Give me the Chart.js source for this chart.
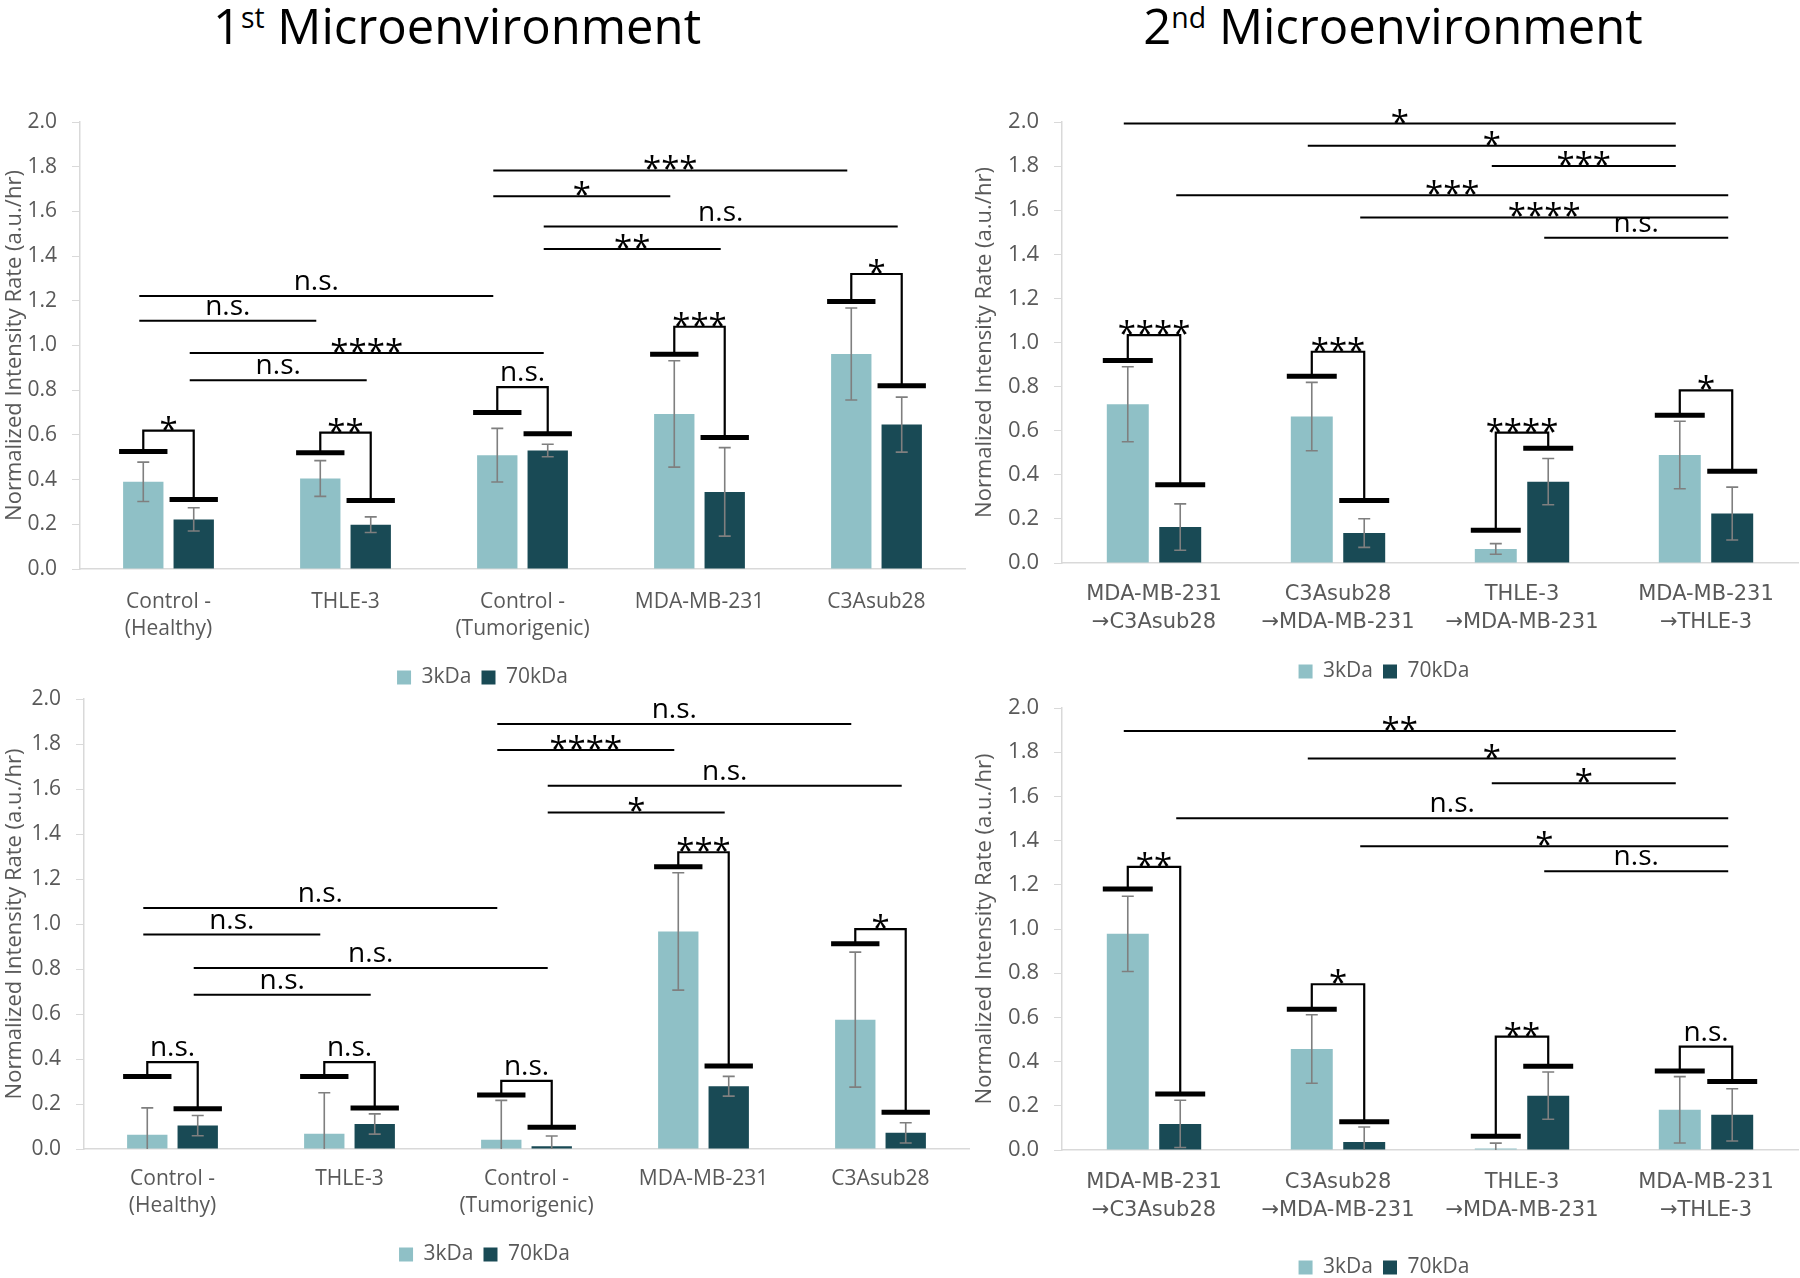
<!DOCTYPE html>
<html>
<head>
<meta charset="utf-8">
<script src="https://cdn.jsdelivr.net/npm/chart.js@4.4.1/dist/chart.umd.min.js"></script>
<style>
  html, body { margin: 0; padding: 0; background: #fff; overflow: hidden; width: 1800px; height: 1278px; }
  canvas { position: absolute; }
  .title { position: absolute; top: 1px; width: 700px; text-align: center; font-family: "Open Sans"; font-size: 49px; line-height: 49px; color: #000; }
  .title sup { font-size: 0.58em; line-height: 0; vertical-align: baseline; position: relative; top: -16px; }
</style>
</head>
<body>
<div class="title" style="left:107px">1<sup>st</sup> Microenvironment</div>
<div class="title" style="left:1043px">2<sup>nd</sup> Microenvironment</div>

<canvas id="tl" width="975" height="638" style="left:0;top:60px"></canvas>
<canvas id="tr" width="830" height="632" style="left:970px;top:60px"></canvas>
<canvas id="bl" width="975" height="615" style="left:0;top:660px"></canvas>
<canvas id="br" width="830" height="628" style="left:970px;top:660px"></canvas>

<script>
// categories
const firstCategories = [["Control -", "(Healthy)"], "THLE-3", ["Control -", "(Tumorigenic)"], "MDA-MB-231", "C3Asub28"]
const secondCategories = [["MDA-MB-231", "→C3Asub28"], ["C3Asub28", "→MDA-MB-231"], ["THLE-3", "→MDA-MB-231"], ["MDA-MB-231", "→THLE-3"]]
const yTickValues = [0, 0.2, 0.4, 0.6, 0.8, 1.0, 1.2, 1.4, 1.6, 1.8, 2.0]

// 1st microenvironment, top
const meanA3k = [0.39, 0.405, 0.509, 0.694, 0.962]
const sdA3k = [0.088, 0.08, 0.12, 0.238, 0.206]
const meanA70k = [0.222, 0.198, 0.53, 0.345, 0.646]
const sdA70k = [0.052, 0.035, 0.028, 0.198, 0.123]
const capA3k = [0.526, 0.52, 0.70, 0.961, 1.197]
const capA70k = [0.311, 0.306, 0.605, 0.588, 0.82]
const bracketA = [0.619, 0.61, 0.814, 1.084, 1.32]
const sigA = ["*", "**", "n.s.", "***", "*"]
// [from category, from series, to category, to series, height, label]
const compA = [[0, 0, 2, 0, 1.222, "n.s."], [0, 0, 1, 0, 1.111, "n.s."], [0, 1, 2, 1, 0.966, "****"], [0, 1, 1, 1, 0.844, "n.s."],
  [2, 0, 4, 0, 1.783, "***"], [2, 0, 3, 0, 1.668, "*"], [2, 1, 4, 1, 1.532, "n.s."], [2, 1, 3, 1, 1.432, "**"]]

// 2nd microenvironment, top
const meanB3k = [0.72, 0.664, 0.064, 0.49]
const sdB3k = [0.17, 0.155, 0.024, 0.153]
const meanB70k = [0.163, 0.136, 0.369, 0.224]
const sdB70k = [0.105, 0.065, 0.105, 0.12]
const capB3k = [0.918, 0.847, 0.148, 0.67]
const capB70k = [0.355, 0.283, 0.52, 0.416]
const bracketB = [1.033, 0.958, 0.591, 0.783]
const sigB = ["****", "***", "****", "*"]
const compB = [[0, 0, 3, 0, 1.993, "*"], [1, 0, 3, 0, 1.892, "*"], [2, 0, 3, 0, 1.8, "***"],
  [0, 1, 3, 1, 1.668, "***"], [1, 1, 3, 1, 1.567, "****"], [2, 1, 3, 1, 1.475, "n.s."]]

// 1st microenvironment, bottom
const meanC3k = [0.063, 0.068, 0.041, 0.967, 0.575]
const sdC3k = [0.12, 0.182, 0.175, 0.261, 0.3]
const meanC70k = [0.104, 0.111, 0.012, 0.279, 0.072]
const sdC70k = [0.045, 0.045, 0.046, 0.044, 0.045]
const capC3k = [0.322, 0.322, 0.24, 1.254, 0.912]
const capC70k = [0.179, 0.182, 0.097, 0.369, 0.163]
const bracketC = [0.386, 0.386, 0.303, 1.319, 0.977]
const sigC = ["n.s.", "n.s.", "n.s.", "***", "*"]
const compC = [[0, 0, 2, 0, 1.071, "n.s."], [0, 0, 1, 0, 0.953, "n.s."], [0, 1, 2, 1, 0.805, "n.s."], [0, 1, 1, 1, 0.686, "n.s."],
  [2, 0, 4, 0, 1.889, "n.s."], [2, 0, 3, 0, 1.773, "****"], [2, 1, 4, 1, 1.614, "n.s."], [2, 1, 3, 1, 1.496, "*"]]

// 2nd microenvironment, bottom
const meanD3k = [0.978, 0.457, 0.007, 0.182]
const sdD3k = [0.17, 0.155, 0.024, 0.15]
const meanD70k = [0.118, 0.036, 0.246, 0.159]
const sdD70k = [0.107, 0.068, 0.107, 0.118]
const capD3k = [1.181, 0.637, 0.062, 0.357]
const capD70k = [0.253, 0.128, 0.379, 0.31]
const bracketD = [1.281, 0.75, 0.513, 0.468]
const sigD = ["**", "*", "**", "n.s."]
const compD = [[0, 0, 3, 0, 1.896, "**"], [1, 0, 3, 0, 1.771, "*"], [2, 0, 3, 0, 1.659, "*"],
  [0, 1, 3, 1, 1.501, "n.s."], [1, 1, 3, 1, 1.375, "*"], [2, 1, 3, 1, 1.261, "n.s."]]

Chart.defaults.font.family = '"Open Sans", "Liberation Sans", sans-serif'
Chart.defaults.color = "#595959"

function drawLabel(ctx, txt, x, py) {
  ctx.fillStyle = "#000"
  ctx.textAlign = "center"
  ctx.textBaseline = "alphabetic"
  if (txt.includes("*")) {
    // asterisks sit high in the font, so drop them below the baseline
    ctx.font = '33px "Open Sans"'
    ctx.fillText(txt, x, py + 10)
  } else {
    ctx.font = '28px "Open Sans"'
    ctx.fillText(txt, x, py - 6)
  }
}

// error bars, significance caps, brackets and comparison lines
const sigMarks = {
  id: "sigMarks",
  afterDatasetsDraw(chart) {
    const o = chart.options.plugins.sigMarks
    const ctx = chart.ctx
    const y = chart.scales.y
    const bars = [chart.getDatasetMeta(0).data, chart.getDatasetMeta(1).data]
    ctx.save()

    ctx.strokeStyle = "#7f7f7f"
    ctx.lineWidth = 1.6
    bars.forEach((meta, d) => {
      const vals = chart.data.datasets[d].data
      meta.forEach((bar, i) => {
        const lo = vals[i] - o.err[d][i]
        const top = y.getPixelForValue(vals[i] + o.err[d][i])
        const bot = y.getPixelForValue(Math.max(0, lo))
        ctx.beginPath()
        ctx.moveTo(bar.x, top); ctx.lineTo(bar.x, bot)
        ctx.moveTo(bar.x - 6, top); ctx.lineTo(bar.x + 6, top)
        if (lo > 0) { ctx.moveTo(bar.x - 6, bot); ctx.lineTo(bar.x + 6, bot) }
        ctx.stroke()
      })
    })

    ctx.strokeStyle = "#000"
    ctx.lineWidth = 5
    bars.forEach((meta, d) => meta.forEach((bar, i) => {
      const py = y.getPixelForValue(o.caps[d][i])
      const hw = bar.width / 2 + 4
      ctx.beginPath(); ctx.moveTo(bar.x - hw, py); ctx.lineTo(bar.x + hw, py); ctx.stroke()
    }))

    ctx.lineWidth = 2.2
    bars[0].forEach((b3, i) => {
      const b70 = bars[1][i]
      const top = y.getPixelForValue(o.bracket[i])
      ctx.beginPath()
      ctx.moveTo(b3.x, y.getPixelForValue(o.caps[0][i]))
      ctx.lineTo(b3.x, top)
      ctx.lineTo(b70.x, top)
      ctx.lineTo(b70.x, y.getPixelForValue(o.caps[1][i]))
      ctx.stroke()
      drawLabel(ctx, o.sig[i], (b3.x + b70.x) / 2, top)
    })

    ctx.lineWidth = 2
    o.comps.forEach(([c1, s1, c2, s2, v, txt]) => {
      const x1 = bars[s1][c1].x - 4
      const x2 = bars[s2][c2].x - 4
      const py = y.getPixelForValue(v)
      ctx.strokeStyle = "#000"
      ctx.beginPath(); ctx.moveTo(x1, py); ctx.lineTo(x2, py); ctx.stroke()
      drawLabel(ctx, txt, (x1 + x2) / 2, py)
    })
    ctx.restore()
  }
}
Chart.register(sigMarks)

function makePanel(id, labels, m3, s3, m70, s70, c3, c70, br, sig, comps, L) {
  return new Chart(document.getElementById(id), {
    type: "bar",
    data: {
      labels: labels,
      datasets: [
        { label: "3kDa", data: m3, backgroundColor: "#8fc0c6", barPercentage: 0.8, categoryPercentage: 0.57 },
        { label: "70kDa", data: m70, backgroundColor: "#194a55", barPercentage: 0.8, categoryPercentage: 0.57 }
      ]
    },
    options: {
      responsive: false,
      animation: false,
      layout: { padding: { top: L.top, left: 0, right: L.right, bottom: 0 } },
      plugins: {
        legend: {
          position: "bottom",
          labels: { font: { size: 21 }, color: "#595959", boxWidth: 14, boxHeight: 14, padding: 10 }
        },
        tooltip: { enabled: false },
        sigMarks: { err: [s3, s70], caps: [c3, c70], bracket: br, sig: sig, comps: comps }
      },
      scales: {
        x: {
          grid: { display: false, drawTicks: false },
          border: { color: "#d9d9d9", width: 1.5 },
          ticks: { color: "#595959", font: { family: L.xFamily, size: L.xFont, lineHeight: L.xLine }, padding: L.xPad, maxRotation: 0, autoSkip: false },
          afterFit: s => { s.height = L.xH }
        },
        y: {
          min: 0,
          max: 2,
          afterBuildTicks: s => { s.ticks = yTickValues.map(v => ({ value: v })) },
          ticks: { color: "#595959", font: { size: L.yFont }, padding: 15, callback: v => v.toFixed(1) },
          grid: { drawOnChartArea: false, tickLength: 8, color: "#d9d9d9" },
          border: { color: "#d9d9d9", width: 1.5 },
          title: { display: true, text: "Normalized Intensity Rate (a.u./hr)", color: "#595959", font: { size: 22 }, padding: { top: 2, bottom: 0 } },
          afterFit: s => { s.width = L.yW }
        }
      }
    }
  })
}

const openSans = '"Open Sans", sans-serif'
const arrowFont = '"DejaVu Sans", sans-serif'

makePanel("tl", firstCategories, meanA3k, sdA3k, meanA70k, sdA70k, capA3k, capA70k, bracketA, sigA, compA,
  { top: 62, right: 10, yW: 80, xH: 88, xPad: 19, xFont: 21, xLine: 1.3, yFont: 21, xFamily: openSans })
makePanel("tr", secondCategories, meanB3k, sdB3k, meanB70k, sdB70k, capB3k, capB70k, bracketB, sigB, compB,
  { top: 62, right: 2, yW: 92, xH: 88, xPad: 17, xFont: 21, xLine: 1.35, yFont: 22, xFamily: arrowFont })
makePanel("bl", firstCategories, meanC3k, sdC3k, meanC70k, sdC70k, capC3k, capC70k, bracketC, sigC, compC,
  { top: 39, right: 6, yW: 84, xH: 85, xPad: 16, xFont: 21, xLine: 1.3, yFont: 21, xFamily: openSans })
makePanel("br", secondCategories, meanD3k, sdD3k, meanD70k, sdD70k, capD3k, capD70k, bracketD, sigD, compD,
  { top: 48, right: 2, yW: 92, xH: 97, xPad: 18, xFont: 21, xLine: 1.35, yFont: 22, xFamily: arrowFont })
</script>
</body>
</html>
